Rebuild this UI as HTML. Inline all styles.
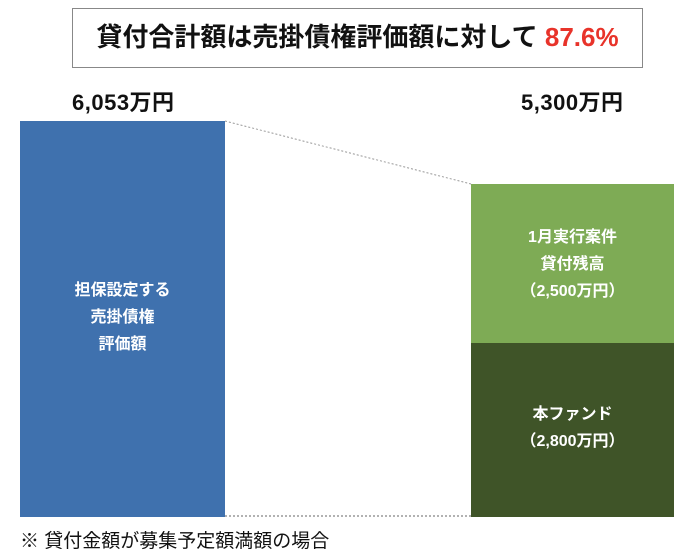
<!DOCTYPE html>
<html><head><meta charset="utf-8"><style>
body{margin:0;width:700px;height:560px;background:#fff;position:relative;overflow:hidden;font-family:"Liberation Sans","Noto Sans CJK JP",sans-serif;}
.a{position:absolute}
.t{font-weight:bold;color:#fff;font-size:16px;text-align:center;line-height:27px}
</style></head><body>
<div class="a" style="left:72px;top:8px;width:571px;height:60px;border:1.5px solid #888;box-sizing:border-box;text-align:center;line-height:57px;font-weight:bold;font-size:26px;color:#111;white-space:nowrap">貸付合計額は売掛債権評価額に対して <span style="color:#e8332a">87.6%</span></div>
<div class="a" style="left:72px;top:85px;font-weight:bold;font-size:22px;letter-spacing:0.5px;color:#111">6,053万円</div>
<div class="a" style="left:521px;top:85px;font-weight:bold;font-size:22px;letter-spacing:0.5px;color:#111">5,300万円</div>
<svg class="a" style="left:0;top:0" width="700" height="560">
<line x1="225" y1="121" x2="471" y2="184" stroke="#999" stroke-dasharray="2,2" stroke-width="1"/>
<line x1="225" y1="516" x2="471" y2="516" stroke="#999" stroke-dasharray="2,2" stroke-width="1.5"/>
</svg>
<div class="a" style="left:20px;top:121px;width:205px;height:396px;background:#3f71ae"></div>
<div class="a t" style="left:20px;top:277px;width:205px">担保設定する<br>売掛債権<br>評価額</div>
<div class="a" style="left:471px;top:184px;width:203px;height:159px;background:#7eab55"></div>
<div class="a t" style="left:471px;top:224px;width:203px">1月実行案件<br>貸付残高<br>（2,500万円）</div>
<div class="a" style="left:471px;top:343px;width:203px;height:174px;background:#3f5428"></div>
<div class="a t" style="left:471px;top:401px;width:203px">本ファンド<br>（2,800万円）</div>
<div class="a" style="left:20px;top:526px;font-size:19px;color:#111;white-space:nowrap">※ 貸付金額が募集予定額満額の場合</div>
</body></html>
